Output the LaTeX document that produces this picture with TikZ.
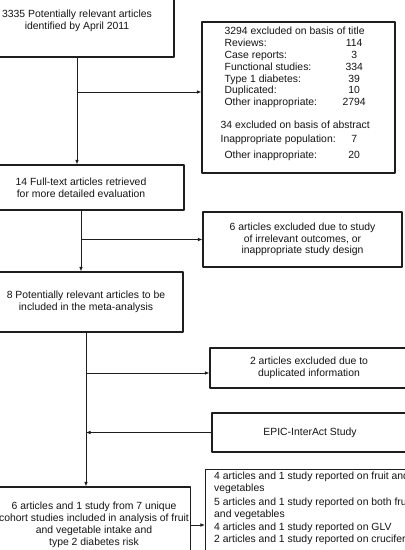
\documentclass[tikz,border=0pt]{standalone}
\usepackage{fontspec}
\setmainfont{Liberation Sans}
\usepackage{tikz}
\usetikzlibrary{arrows.meta,positioning,calc}
\definecolor{fcedge}{RGB}{30,30,30}
\definecolor{fcink}{RGB}{20,20,20}
\definecolor{fcpaper}{RGB}{255,255,255}
\newcommand{\fcfont}{\fontsize{10.4}{11.8}\selectfont}
\tikzset{
  fcbox/.style={
    draw=fcedge, line width=1.1pt, align=center,
    inner sep=2pt, font=\fcfont, text=fcink
  },
  stage/.style={fcbox},
  excl/.style={fcbox},
  note/.style={font=\fcfont, text=fcink, align=left, inner sep=0pt},
  arr/.style={-{Latex[length=1.6mm,width=1.3mm]}, draw=fcedge, line width=0.9pt},
  every picture/.append style={line join=round}
}

\begin{document}
\begin{tikzpicture}[x=1pt,y=-1pt]
  \useasboundingbox (0,0) rectangle (405,550);
  \clip (0,0) rectangle (405,550);
  \fill[fcpaper] (0,0) rectangle (405,550);

  % main column
  \node[stage, minimum width=194pt, minimum height=72pt] (hits) at (77,21)
    {3335 Potentially relevant articles\\identified by April 2011};
  \node[stage, minimum width=206pt, minimum height=45pt] (full) at (81,187.5)
    {14 Full-text articles retrieved\\for more detailed evaluation};
  \node[stage, minimum width=194pt, minimum height=60pt] (pot) at (86,302)
    {8 Potentially relevant articles to be\\included in the meta-analysis};
  \node[stage, minimum width=192pt, minimum height=76pt] (res) at (94,525)
    {6 articles and 1 study from 7 unique\\cohort studies included in analysis of fruit\\and vegetable intake and\\type 2 diabetes risk};

  % side boxes
  \node[excl, minimum width=193pt, minimum height=151pt] (titlebox) at (298.5,97.5) {};
  \node[note, anchor=north west] (titlelist) at ($(titlebox.north west)+(23,5)$) {%
    \renewcommand{\arraystretch}{1}%
    \begin{tabular}{@{}p{114pt}@{}c@{}}
      \multicolumn{2}{@{}l@{}}{3294 excluded on basis of title}\\
      Reviews: & \makebox[22pt]{114}\\
      Case reports: & \makebox[22pt]{3}\\
      Functional studies: & \makebox[22pt]{334}\\
      Type 1 diabetes: & \makebox[22pt]{39}\\
      Duplicated: & \makebox[22pt]{10}\\
      Other inappropriate: & \makebox[22pt]{2794}\\[11pt]
      \multicolumn{2}{@{}l@{}}{\hspace{-4pt}34 excluded on basis of abstract}\\[2pt]
      \hspace{-4pt}Inappropriate population: & \makebox[22pt]{7}\\[4pt]
      Other inappropriate: & \makebox[22pt]{20}
    \end{tabular}};
  \node[excl, minimum width=199pt, minimum height=55pt] (design) at (302.5,239.5)
    {6 articles excluded due to study\\of irrelevant outcomes, or\\inappropriate study design};
  \node[excl, minimum width=198pt, minimum height=40pt] (dup) at (309,368)
    {2 articles excluded due to\\duplicated information};
  \node[excl, minimum width=196pt, minimum height=39pt] (epic) at (310,432.5)
    {EPIC-InterAct Study};
  \node[excl, minimum width=215pt, minimum height=95pt, anchor=north west] (split) at (205,469) {};
  \node[note, anchor=north west] (splittxt) at ($(split.north west)+(9,3)$) {%
    4 articles and 1 study reported on fruit and\\vegetables\\[2.5pt]
    5 articles and 1 study reported on both fruit\\and vegetables\\[1pt]
    4 articles and 1 study reported on GLV\\
    2 articles and 1 study reported on cruciferous vegetables};

  % junctions
  \coordinate (j1) at (77,92);
  \coordinate (j3) at (86,373);

  \draw[arr] (hits.south) -- (hits.south |- full.north);
  \draw[arr] (j1) -- (j1 -| titlebox.west);
  \draw[arr] (full.south) -- (full.south |- pot.north);
  \draw[arr] (full.south |- design.west) -- (design.west);
  \draw[arr] (pot.south) -- (pot.south |- res.north);
  \draw[arr] (j3) -- (j3 -| dup.west);
  \draw[arr] (epic.west) -- (epic.west -| pot.south);
  \draw[arr] (res.east) -- (res.east -| split.west);
\end{tikzpicture}
\end{document}
